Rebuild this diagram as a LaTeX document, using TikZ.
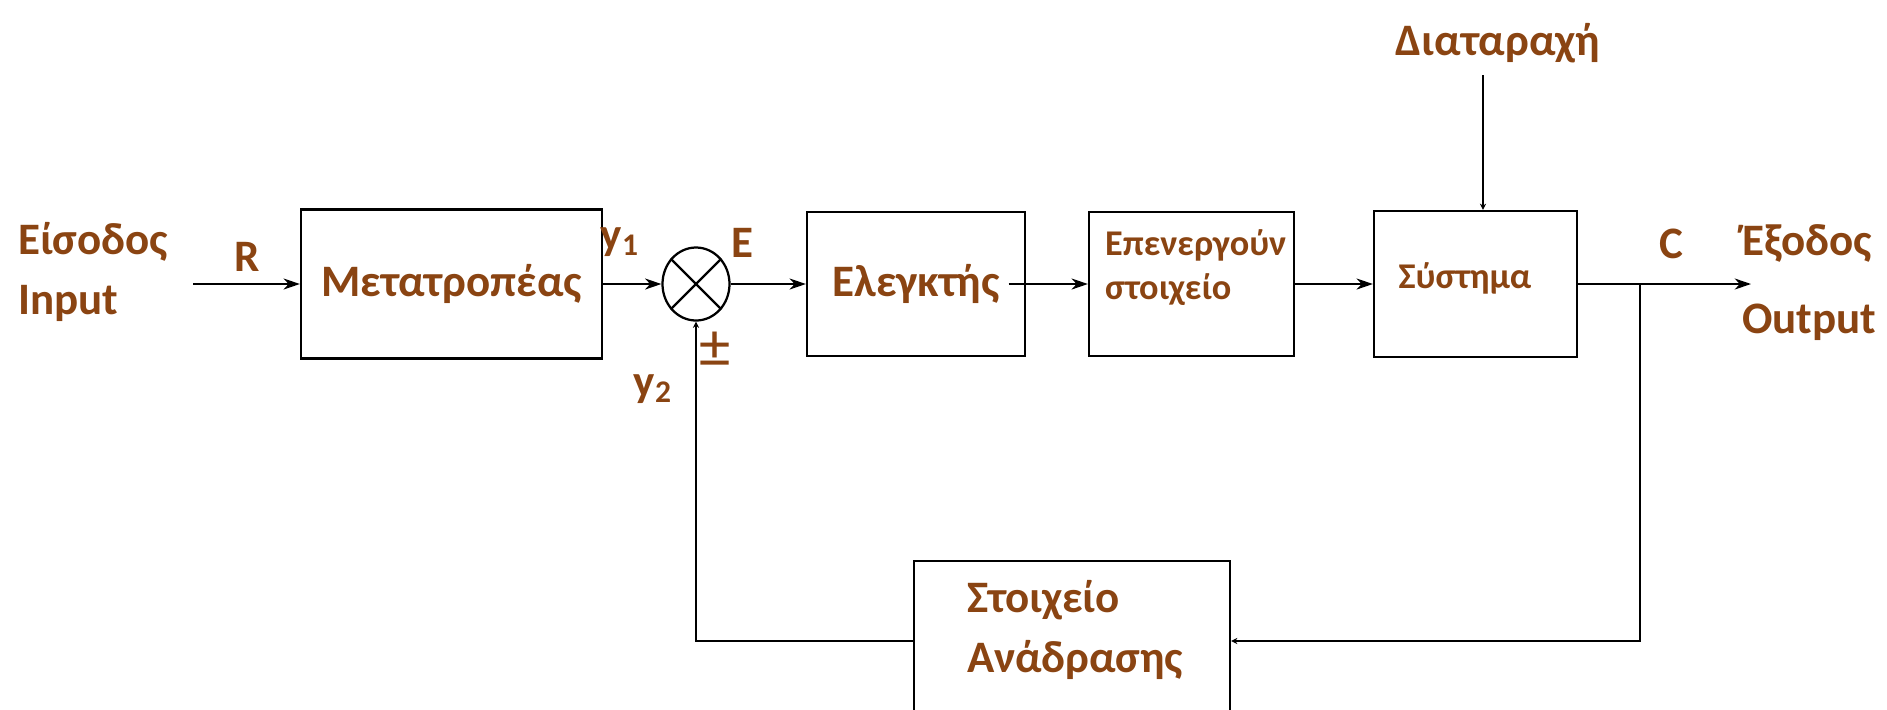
\documentclass[tikz,border=0pt]{standalone}
\usepackage{fontspec}
\setmainfont{Carlito}
\usetikzlibrary{arrows.meta,shapes.geometric}
\definecolor{txtbrown}{RGB}{138,68,18}

\tikzset{every picture/.style={line width=0.9pt}}
\tikzset{
  block/.style={draw=black, rectangle, inner sep=0pt},
  lbl/.style={text=txtbrown, font=\bfseries\fontsize{18}{24}\selectfont, inner sep=0pt},
  smalllbl/.style={text=txtbrown, font=\bfseries\fontsize{14.5}{17.6}\selectfont, inner sep=0pt},
  sig/.style={draw=black, -{Stealth[length=6.5pt,width=4.4pt,inset=2pt]}},
  smalltip/.style={draw=black, -{Stealth[length=2.5pt,width=2.5pt]}},
}

\begin{document}
\begin{tikzpicture}[
            x=0.4pt,
            y=0.4pt,
            yscale=-1,
            xscale=1,
            line width=0.9pt
        ]
            \useasboundingbox (0,0) rectangle (1887,709);

            % forward path
            \node[block, lbl, minimum width=120.4pt, minimum height=59.6pt] (conv) at (451.5,284) {Μετατροπέας};
            \node[draw, ellipse, minimum width=26.8pt, minimum height=29.2pt, inner sep=0pt] (sum) at (696,284) {};
            \draw (sum.135) -- (sum.-45);
            \draw (sum.45) -- (sum.-135);
            \node[block, lbl, minimum width=87.2pt, minimum height=57.6pt] (ctrl) at (916,284) {Ελεγκτής};
            \node[block, minimum width=82pt, minimum height=57.6pt] (act) at (1191.5,284) {};
            \node[smalllbl, align=left, anchor=west] (acttext) at (1104,268) {Επενεργούν\\στοιχείο};
            \node[block, minimum width=81.2pt, minimum height=58.4pt] (sys) at (1475.5,284) {};
            \node[smalllbl] (systext) at (1465,278) {Σύστημα};

            % feedback path
            \node[block, minimum width=126.4pt, minimum height=64pt] (fb) at (1072,641) {};
            \node[lbl, align=left, anchor=west] (fbtext) at (966,630) {Στοιχείο\\Ανάδρασης};

            \coordinate (in) at (193,284);
            \coordinate (out) at (1751,284);
            \coordinate (branch) at (1640,284);
            \coordinate (dist) at (1483,75);

            \draw[sig] (in) -- (conv);
            \draw[sig] (conv) -- (sum);
            \draw[sig] (sum) -- (ctrl);
            \draw[sig] ([xshift=-7pt]ctrl.east) -- (act);
            \draw[sig] (act) -- (sys);
            \draw[sig] (sys) -- (out);
            \draw[smalltip] (branch) |- (fb);
            \draw[smalltip] (fb) -| (sum);
            \draw[smalltip] (dist) -- (dist |- sys.north);

            % signal names
            \node[lbl, align=left, anchor=west] (inlbl) at (17,272) {Είσοδος\\Input};
            \node[lbl] (rlbl) at (247,257) {R};
            \node[lbl] (y1lbl) at (620,242) {y\textsubscript{1}};
            \node[lbl] (elbl) at (742,243) {E};
            \node[lbl, font=\fontsize{25}{25}\selectfont] (pmlbl) at (715,350) {±};
            \node[lbl] (y2lbl) at (653,389) {y\textsubscript{2}};
            \node[lbl] (clbl) at (1671,244) {C};
            \node[lbl, align=left, anchor=west] (outlbl) at (1741,283) {Έξοδος\\[7.2pt]Output};
            \node[lbl] (distlbl) at (1498,43) {Διαταραχή};
        \end{tikzpicture}
\end{document}
